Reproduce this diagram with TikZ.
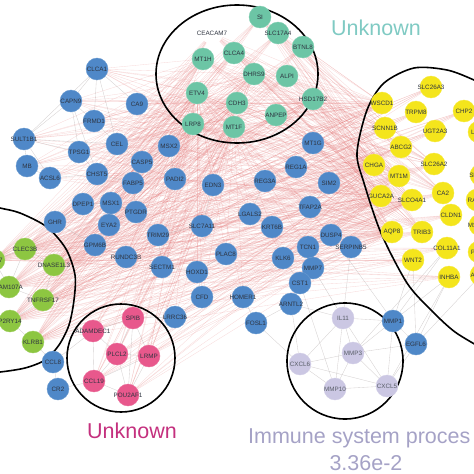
\documentclass[tikz,border=0pt]{standalone}
\usepackage{fontspec}
\setmainfont{Liberation Sans}
\usetikzlibrary{backgrounds}
\definecolor{nblue}{HTML}{4F88C8}
\definecolor{nteal}{HTML}{6CC5A5}
\definecolor{nyellow}{HTML}{F4E51C}
\definecolor{ngreen}{HTML}{8DC641}
\definecolor{npink}{HTML}{E8588C}
\definecolor{nlav}{HTML}{CBC7E3}
\definecolor{edgered}{HTML}{E07070}
\definecolor{edgegray}{HTML}{A09898}
\definecolor{labteal}{HTML}{7FCAC3}
\definecolor{labpink}{HTML}{C4307E}
\definecolor{lablav}{HTML}{A5A2C6}
\definecolor{ntext}{HTML}{2E3440}
\newcommand\mygn[3]{\node[#1] (#2) at (#3) {\makebox[0pt]{#2}};}
\begin{document}
\begin{tikzpicture}[x=1pt,y=-1pt,
 gene/.style={circle,minimum size=22pt,inner sep=0pt,font=\fontsize{6.3}{7}\selectfont,text=ntext},
 bl/.style={gene,fill=nblue,draw=nblue!85!white,line width=0.4pt},
 te/.style={gene,fill=nteal,draw=nteal!85!white,line width=0.4pt},
 tetxt/.style={gene,fill=none,draw=none},
 ye/.style={gene,fill=nyellow,draw=nyellow!85!white,line width=0.4pt},
 gr/.style={gene,fill=ngreen,draw=ngreen!85!white,line width=0.4pt},
 pk/.style={gene,fill=npink,draw=npink!85!white,line width=0.4pt},
 lv/.style={gene,fill=nlav,draw=nlav!85!white,line width=0.4pt,text=ntext!80!white},
 redge/.style={draw=edgered,line width=0.35pt,opacity=0.25},
 gedge/.style={draw=edgegray,line width=0.35pt,opacity=0.45},
 ring/.style={draw=black,line width=1.6pt},
 biglab/.style={font=\fontsize{21.5}{24}\selectfont,inner sep=0pt}]
\useasboundingbox (0,0) rectangle (474,474);
\clip (0,0) rectangle (474,474);

% group outlines
\draw[ring] (237,74) ellipse [x radius=81pt, y radius=69pt];
\draw[ring] (121,358) circle [radius=54pt];
\draw[ring] (345,361) circle [radius=58pt];
\draw[ring] plot[smooth] coordinates {(505,95) (474,80) (447,70) (414,68) (384,83) (367,110) (357,153) (364,183) (381,233) (407,283) (431,310) (455,332) (485,350)};
\draw[ring] plot[smooth] coordinates {(-20,203) (0,208) (20,213) (47,227) (66,249) (75,275) (74,300) (69,325) (59,345) (45,360) (25,368) (0,372) (-20,373)};

% blue nodes
\mygn{bl}{CLCA1}{97,69}
\mygn{bl}{CAPN9}{71,101}
\mygn{bl}{CA9}{137,104}
\mygn{bl}{FRMD1}{94,121}
\mygn{bl}{SULT1B1}{24,139}
\mygn{bl}{TPSG1}{79,152}
\mygn{bl}{CEL}{117,144}
\mygn{bl}{MB}{27,166}
\mygn{bl}{ACSL6}{50,178}
\mygn{bl}{CHST5}{97,174}
\mygn{bl}{CASP5}{142,162}
\mygn{bl}{FABP5}{133,183}
\mygn{bl}{MSX2}{169,146}
\mygn{bl}{MT1G}{313,143}
\mygn{bl}{REG1A}{296,167}
\mygn{bl}{PADI2}{175,179}
\mygn{bl}{EDN3}{213,185}
\mygn{bl}{REG3A}{265,181}
\mygn{bl}{SIM2}{329,183}
\mygn{bl}{DPEP1}{83,204}
\mygn{bl}{MSX1}{111,203}
\mygn{bl}{PTGDR}{136,212}
\mygn{bl}{GHR}{55,222}
\mygn{bl}{EYA2}{109,225}
\mygn{bl}{TFAP2A}{310,207}
\mygn{bl}{LGALS2}{250,214}
\mygn{bl}{SLC7A11}{202,226}
\mygn{bl}{KRT6B}{272,227}
\mygn{bl}{TRIM29}{158,235}
\mygn{bl}{DUSP4}{331,235}
\mygn{bl}{GPM6B}{95,245}
\mygn{bl}{SERPINB5}{351,247}
\mygn{bl}{TCN1}{308,247}
\mygn{bl}{PLAC8}{226,254}
\mygn{bl}{KLK6}{283,258}
\mygn{bl}{RUNDC3B}{126,257}
\mygn{bl}{SECTM1}{162,267}
\mygn{bl}{HOXD1}{197,272}
\mygn{bl}{MMP7}{313,268}
\mygn{bl}{CST1}{300,283}
\mygn{bl}{CFD}{202,297}
\mygn{bl}{HOMER1}{243,297}
\mygn{bl}{ARNTL2}{291,304}
\mygn{bl}{LRRC36}{175,317}
\mygn{bl}{FOSL1}{256,323}
\mygn{bl}{MMP1}{393,321}
\mygn{bl}{EGFL6}{416,344}
\mygn{bl}{CCL8}{53,362}
\mygn{bl}{CR2}{58,389}

% teal nodes
\mygn{te}{SI}{260,17}
\mygn{te}{SLC17A4}{278,33}
\mygn{tetxt}{CEACAM7}{212,33}
\mygn{te}{BTNL8}{303,47}
\mygn{te}{MT1H}{203,59}
\mygn{te}{CLCA4}{234,53}
\mygn{te}{DHRS9}{254,74}
\mygn{te}{ALPI}{287,76}
\mygn{te}{HSD17B2}{313,99}
\mygn{te}{ETV4}{197,93}
\mygn{te}{CDH3}{237,103}
\mygn{te}{ANPEP}{276,115}
\mygn{te}{LRP8}{193,124}
\mygn{te}{MT1F}{234,127}

% yellow nodes
\mygn{ye}{SLC26A3}{431,87}
\mygn{ye}{WSCD1}{382,103}
\mygn{ye}{TRPM8}{416,112}
\mygn{ye}{CHP2}{464,111}
\mygn{ye}{SCNN1B}{385,128}
\mygn{ye}{UGT2A3}{435,131}
\mygn{ye}{LRP2}{479,132}
\mygn{ye}{ABCG2}{401,147}
\mygn{ye}{CHGA}{374,165}
\mygn{ye}{SLC26A2}{434,164}
\mygn{ye}{MT1M}{399,176}
\mygn{ye}{SLC4A4}{481,175}
\mygn{ye}{GUCA2A}{381,196}
\mygn{ye}{SLCO4A1}{412,200}
\mygn{ye}{CA2}{443,193}
\mygn{ye}{RADIL}{477,200}
\mygn{ye}{CLDN1}{451,215}
\mygn{ye}{MS4A12}{480,225}
\mygn{ye}{AQP8}{392,232}
\mygn{ye}{TRIB3}{422,232}
\mygn{ye}{COL11A1}{447,248}
\mygn{ye}{PCK1}{479,252}
\mygn{ye}{WNT2}{413,260}
\mygn{ye}{INHBA}{449,277}
\mygn{ye}{ADH1B}{481,275}

% green nodes
\mygn{gr}{CCR7}{-6,260}
\mygn{gr}{CLEC3B}{25,249}
\mygn{gr}{DNASE1L3}{54,265}
\mygn{gr}{FAM107A}{9,287}
\mygn{gr}{TNFRSF17}{43,300}
\mygn{gr}{P2RY14}{10,321}
\mygn{gr}{KLRB1}{33,342}

% pink nodes
\mygn{pk}{SPIB}{133,318}
\mygn{pk}{ADAMDEC1}{93,331}
\mygn{pk}{PLCL2}{117,354}
\mygn{pk}{LRMP}{149,356}
\mygn{pk}{CCL19}{94,381}
\mygn{pk}{POU2AF1}{128,395}

% lavender nodes
\mygn{lv}{IL11}{343,318}
\mygn{lv}{MMP3}{353,353}
\mygn{lv}{MMP10}{335,389}
\mygn{lv}{CXCL5}{387,386}
\mygn{lv}{CXCL6}{300,364}

% cluster labels
\node[biglab,text=labteal,anchor=base] (labA) at (376,35) {Unknown};
\node[biglab,text=labpink,anchor=base] (labB) at (132,438) {Unknown};
\node[biglab,text=lablav,anchor=base west] (labC) at (248,443) {Immune system proces};
\node[biglab,text=lablav,anchor=base] (labD) at (366,470) {3.36e-2};

% edges
\def\yellowL{SLC26A3,WSCD1,TRPM8,CHP2,SCNN1B,UGT2A3,ABCG2,CHGA,SLC26A2,MT1M,GUCA2A,SLCO4A1,CA2,CLDN1,AQP8,TRIB3,COL11A1,WNT2,INHBA}
\def\greenL{CCR7,CLEC3B,DNASE1L3,FAM107A,TNFRSF17,P2RY14,KLRB1}
\def\tealL{SI,SLC17A4,CEACAM7,BTNL8,MT1H,CLCA4,DHRS9,ALPI,HSD17B2,ETV4,CDH3,ANPEP,LRP8,MT1F}
\def\pinkL{SPIB,ADAMDEC1,PLCL2,LRMP,CCL19,POU2AF1}
\begin{pgfonlayer}{background}
\foreach \a in \yellowL {\foreach \b in \greenL {\draw[redge] (\a) -- (\b);}}
\foreach \a in \tealL {\foreach \b in \greenL {\draw[redge] (\a) -- (\b);}}
\foreach \a in \tealL {\foreach \b in {WSCD1,SCNN1B,CHGA,GUCA2A,AQP8,MT1M,SLCO4A1,TRIB3,CA2,SLC26A2} {\draw[redge] (\a) -- (\b);}}
\foreach \a in \pinkL {\foreach \b in {ETV4,CDH3,MT1F,LRP8,DHRS9,GUCA2A,CHGA,AQP8,SLCO4A1,MT1M} {\draw[redge] (\a) -- (\b);}}
\foreach \a in {CLCA1,CAPN9,SULT1B1,MB,ACSL6,TPSG1,CEL,CHST5,DPEP1,GHR,GPM6B,MSX1,EYA2,RUNDC3B,FRMD1,CA9} {\foreach \b in {MT1H,ETV4,LRP8,CDH3,DHRS9,HSD17B2,WSCD1,CHGA,GUCA2A,AQP8} {\draw[redge] (\a) -- (\b);}}
\foreach \a in {MSX2,PADI2,EDN3,REG3A,LGALS2,SLC7A11,TRIM29,PLAC8,SECTM1,HOXD1,CFD,HOMER1,LRRC36,KLK6,TCN1,DUSP4,SIM2,TFAP2A} {\foreach \b in {CHGA,GUCA2A,AQP8,SLCO4A1,MT1F,ETV4} {\draw[redge] (\a) -- (\b);}}
\foreach \a/\b in {CLCA1/CAPN9,CLCA1/FRMD1,CLCA1/CA9,CLCA1/CEL,CLCA1/SULT1B1,CAPN9/SULT1B1,CAPN9/TPSG1,CAPN9/CHST5,CAPN9/FRMD1,SULT1B1/CEL,SULT1B1/TPSG1,SULT1B1/MB,SULT1B1/ACSL6,FRMD1/CEL,TPSG1/CHST5,CEL/CASP5,CHST5/FABP5,MB/ACSL6,ACSL6/CHST5,DPEP1/MSX1,MSX1/EYA2,MSX1/PTGDR,PTGDR/FABP5,CASP5/MSX2,PADI2/MSX2,GHR/DPEP1,GHR/GPM6B,EYA2/GPM6B,RUNDC3B/GPM6B,TRIM29/SECTM1,SECTM1/HOXD1,HOXD1/CFD,CFD/LRRC36,HOMER1/FOSL1,PLAC8/HOXD1,KLK6/TCN1,TCN1/MMP7,MMP7/CST1,CST1/ARNTL2,ARNTL2/FOSL1,DUSP4/SERPINB5,SIM2/TFAP2A,REG1A/REG3A,REG3A/LGALS2,LGALS2/KRT6B,EDN3/SLC7A11,SLC7A11/TRIM29,MT1G/REG1A,DUSP4/TCN1,SERPINB5/MMP7,KLK6/CST1,CCL8/CR2,CCL8/KLRB1,CR2/CCL19,CCL8/ADAMDEC1,LRRC36/SPIB}
 {\draw[gedge] (\a) -- (\b);}
\foreach \a/\b in {IL11/MMP3,IL11/MMP10,IL11/CXCL5,IL11/CXCL6,MMP3/MMP10,MMP3/CXCL5,MMP3/CXCL6,MMP10/CXCL5,MMP10/CXCL6,CXCL5/CXCL6,IL11/MMP1,MMP3/MMP1,CXCL5/MMP1,MMP3/EGFL6,CXCL5/EGFL6,MMP1/EGFL6,IL11/ARNTL2,CXCL6/ARNTL2,CXCL6/FOSL1,MMP10/CST1,IL11/MMP7,MMP1/INHBA,MMP1/COL11A1,EGFL6/INHBA,EGFL6/WNT2,MMP1/WNT2,CXCL5/INHBA,MMP3/COL11A1,IL11/SERPINB5,MMP1/DUSP4,EGFL6/ADH1B}
 {\draw[gedge] (\a) -- (\b);}
\foreach \a/\b in {SPIB/PLCL2,ADAMDEC1/PLCL2,PLCL2/LRMP,PLCL2/CCL19,PLCL2/POU2AF1,CCL19/POU2AF1,SPIB/LRMP,LRMP/POU2AF1,ADAMDEC1/CCL19,SPIB/POU2AF1,CCL19/LRMP,ADAMDEC1/SPIB,CLEC3B/DNASE1L3,CLEC3B/FAM107A,FAM107A/TNFRSF17,TNFRSF17/P2RY14,P2RY14/KLRB1,DNASE1L3/TNFRSF17,CCR7/CLEC3B,CCR7/FAM107A}
 {\draw[gedge] (\a) -- (\b);}
\end{pgfonlayer}
\end{tikzpicture}
\end{document}
